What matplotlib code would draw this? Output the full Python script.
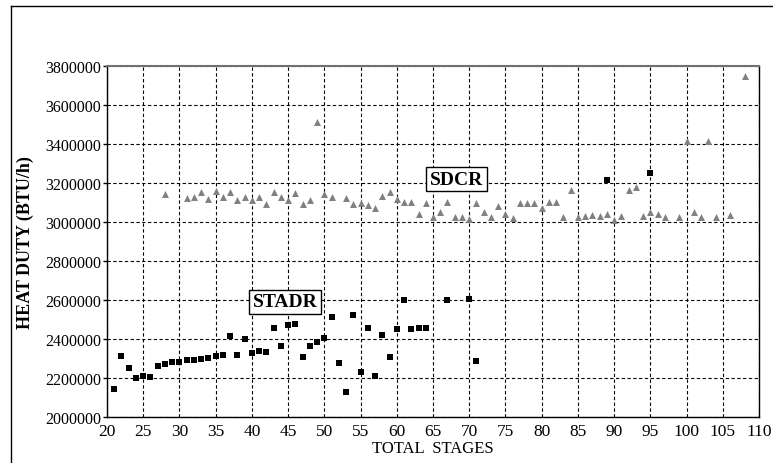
import matplotlib
matplotlib.use("Agg")
import matplotlib.pyplot as plt
from matplotlib.lines import Line2D

plt.rcParams['font.family'] = ['Liberation Serif', 'DejaVu Serif']

# STADR (black squares)
stadr_x = [21, 22, 23, 24, 25, 26, 27, 28, 29, 30, 31, 32, 33, 34, 35, 36, 37, 38, 39, 40,
           41, 42, 43, 44, 45, 46, 47, 48, 49, 50, 51, 52, 53, 54, 55, 56, 57, 58, 59, 60,
           61, 62, 63, 64, 67, 70, 71, 89, 95]
stadr_y = [2142000, 2311000, 2253000, 2200000, 2212000, 2205000, 2263000, 2272000, 2280000, 2284000,
           2292000, 2292000, 2299000, 2301000, 2314000, 2318000, 2414000, 2320000, 2398000, 2328000,
           2337000, 2335000, 2456000, 2366000, 2473000, 2479000, 2308000, 2366000, 2383000, 2404000,
           2514000, 2275000, 2130000, 2521000, 2232000, 2458000, 2210000, 2419000, 2306000, 2451000,
           2602000, 2451000, 2455000, 2455000, 2600000, 2605000, 2286000, 3217000, 3250000]

# SDCR (grey triangles)
sdcr_x = [28, 31, 32, 33, 34, 35, 36, 37, 38, 39, 40, 41, 42, 43, 44, 45, 46, 47, 48, 49,
          50, 51, 53, 54, 55, 56, 57, 58, 59, 60, 61, 62, 63, 64, 65, 66, 67, 68, 69, 70,
          71, 72, 73, 74, 75, 76, 77, 78, 79, 80, 81, 82, 83, 84, 85, 86, 87, 88, 89, 90,
          91, 92, 93, 94, 95, 96, 97, 99, 100, 101, 102, 103, 104, 106, 108]
sdcr_y = [3143000, 3123000, 3128000, 3155000, 3118000, 3157000, 3130000, 3152000, 3113000, 3128000,
          3113000, 3130000, 3092000, 3155000, 3128000, 3111000, 3149000, 3092000, 3114000, 3514000,
          3142000, 3127000, 3125000, 3094000, 3099000, 3086000, 3072000, 3132000, 3154000, 3118000,
          3101000, 3101000, 3041000, 3097000, 3026000, 3050000, 3104000, 3026000, 3027000, 3015000,
          3099000, 3050000, 3024000, 3081000, 3043000, 3022000, 3099000, 3099000, 3099000, 3070000,
          3102000, 3101000, 3024000, 3166000, 3027000, 3033000, 3036000, 3033000, 3041000, 3012000,
          3033000, 3162000, 3178000, 3033000, 3050000, 3041000, 3024000, 3024000, 3417000, 3050000,
          3024000, 3417000, 3024000, 3036000, 3750000]

x_ticks = list(range(20, 111, 5))
y_ticks = list(range(2000000, 3800001, 200000))

fig = plt.figure(figsize=(7.73, 4.64), dpi=100)
ax = fig.add_axes([107 / 773, 1 - 418 / 464, 652 / 773, 351 / 464])

# outer frame, cut off on the right and bottom
fig.add_artist(Line2D([11 / 773, 11 / 773], [0, 1 - 7 / 464], transform=fig.transFigure,
                      color='black', lw=1))
fig.add_artist(Line2D([11 / 773, 1], [1 - 7 / 464, 1 - 7 / 464], transform=fig.transFigure,
                      color='black', lw=1))

ax.scatter(sdcr_x, sdcr_y, marker='^', s=25, color='#808080', linewidths=0, zorder=3)
ax.scatter(stadr_x, stadr_y, marker='s', s=24, color='black', linewidths=0, zorder=3)

ax.set_xlim(20, 110)
ax.set_ylim(2000000, 3800000)
ax.set_xticks(x_ticks)
ax.set_yticks(y_ticks)
ax.set_xticklabels([str(v) for v in x_ticks], fontsize=12.5)
ax.set_yticklabels([str(v) for v in y_ticks], fontsize=11.5)
ax.tick_params(axis='x', length=0, pad=4)
ax.tick_params(axis='y', length=3, width=1, pad=1)

ax.grid(True, color='black', linestyle=(0, (3, 2.2)), linewidth=0.8)
ax.set_axisbelow(True)

for side in ['left', 'bottom', 'right']:
    ax.spines[side].set_color('black')
    ax.spines[side].set_linewidth(1)
ax.spines['top'].set_color('#707070')
ax.spines['top'].set_linewidth(1.5)

ax.set_xlabel('TOTAL  STAGES', fontsize=12, labelpad=1)
ax.set_ylabel('HEAT DUTY (BTU/h)', fontsize=13, fontweight='bold', labelpad=8)

box = dict(boxstyle='square,pad=0.2', facecolor='white', edgecolor='black', linewidth=1)
ax.text(44.6, 2590000, 'STADR', fontsize=14, fontweight='bold', ha='center', va='center',
        bbox=box, zorder=4)
ax.text(68.3, 3220000, 'SDCR', fontsize=14, fontweight='bold', ha='center', va='center',
        bbox=box, zorder=4)

fig.savefig('out.png', dpi=100)
